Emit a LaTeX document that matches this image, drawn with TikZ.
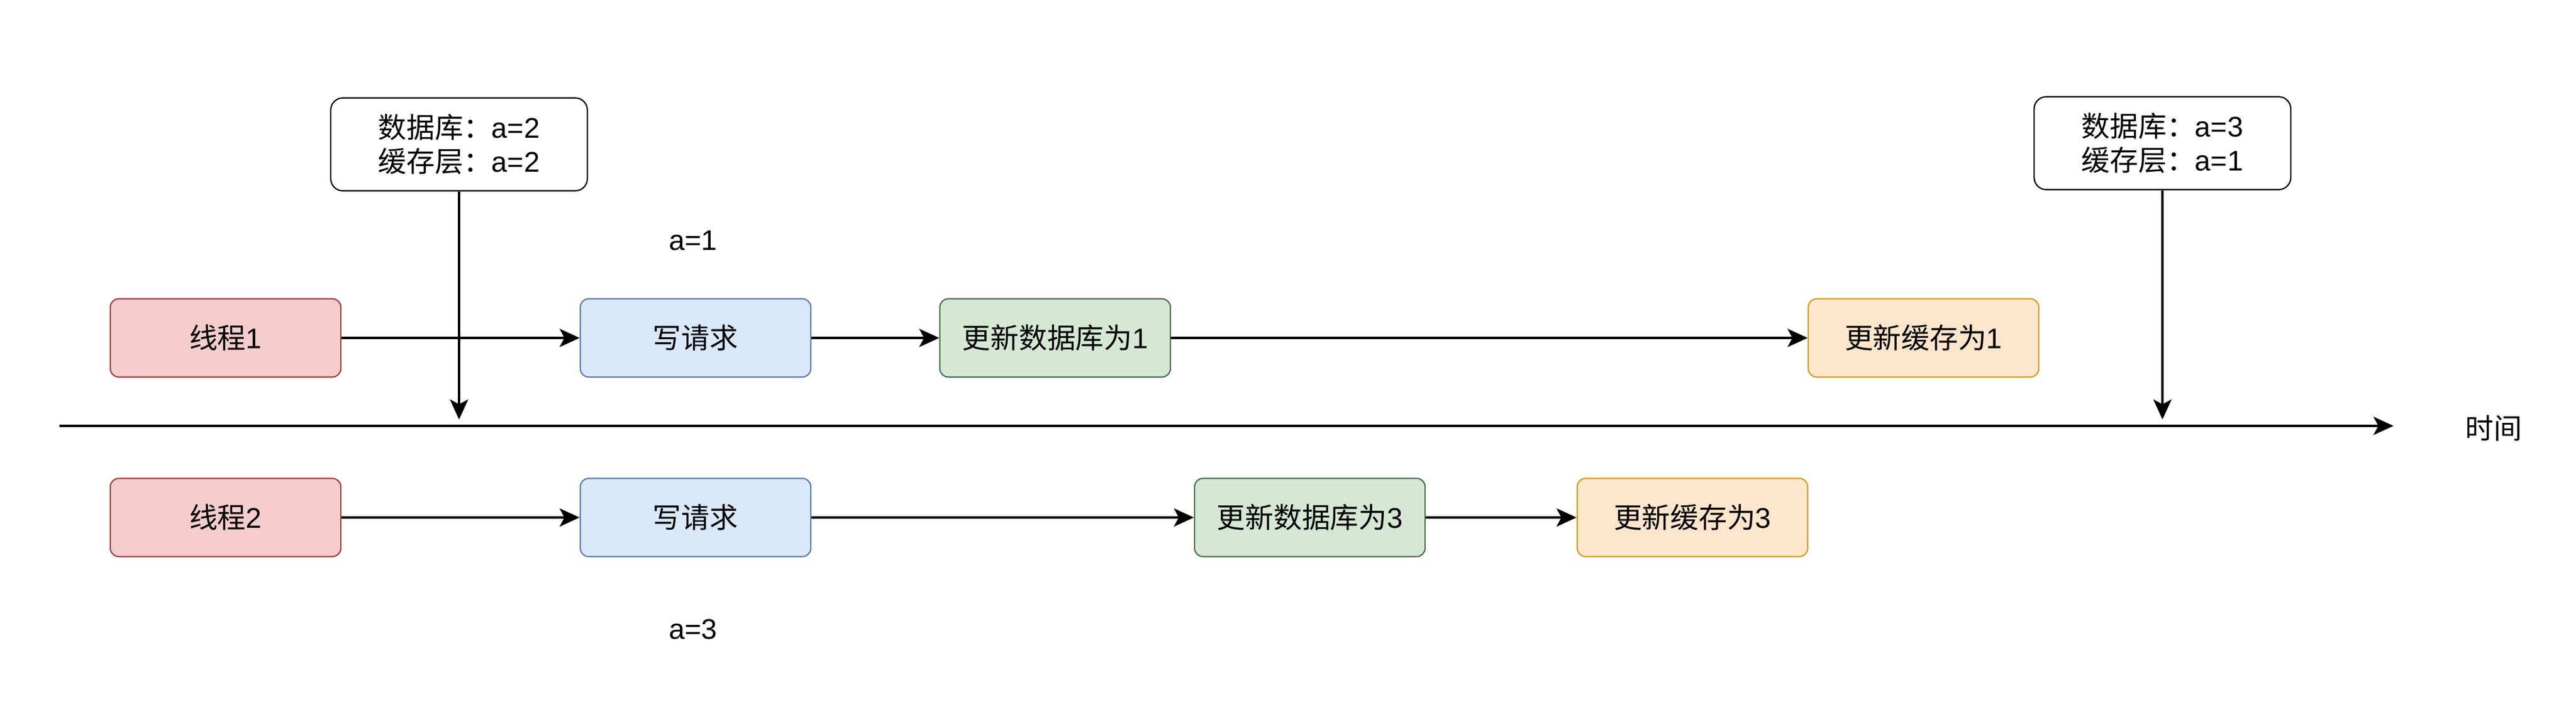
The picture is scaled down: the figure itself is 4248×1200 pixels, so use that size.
\documentclass[tikz,border=0pt]{standalone}
\usepackage{fontspec}
\setmainfont{Liberation Sans}
\newfontfamily\cjk{Noto Sans CJK SC}
\usetikzlibrary{arrows.meta}

\definecolor{redfill}{HTML}{F4CDCC}
\definecolor{reddraw}{HTML}{A63C40}
\definecolor{bluefill}{HTML}{DAE8FC}
\definecolor{bluedraw}{HTML}{5B7BA8}
\definecolor{greenfill}{HTML}{D5E8D4}
\definecolor{greendraw}{HTML}{4F6B4E}
\definecolor{orangefill}{HTML}{FDE6CC}
\definecolor{orangedraw}{HTML}{D69B1A}

\tikzset{
  stepbox/.style={draw, line width=0.6pt, rounded corners=0.14cm,
    minimum width=3.8cm, minimum height=1.29cm, inner sep=0pt},
  notebox/.style={draw, line width=0.6pt, rounded corners=0.2cm, fill=white,
    minimum width=4.23cm, minimum height=1.53cm, align=left},
  flow/.style={line width=1pt, -{Stealth[length=0.33cm, width=0.3cm, inset=0.08cm]}}
}

\begin{document}
\begin{tikzpicture}[x=0.01cm, y=-0.01cm, font=\fontsize{13.3}{15.9}\selectfont]
      \useasboundingbox (0,0) rectangle (4248,1200);
      \coordinate (tstart) at (98,702);
      \coordinate (tend) at (3947,702);
      \draw[flow] (tstart) -- (tend);
      \node (time) at (4112,706) {\cjk 时间};

      \node[stepbox, fill=redfill, draw=reddraw] (thrA) at (372,557) {{\cjk 线程}1};
      \node[stepbox, fill=bluefill, draw=bluedraw] (reqA) at (1147,557) {\cjk 写请求};
      \node[stepbox, fill=greenfill, draw=greendraw] (dbA) at (1740,557) {{\cjk 更新数据库为}1};
      \node[stepbox, fill=orangefill, draw=orangedraw] (cacheA) at (3172,557) {{\cjk 更新缓存为}1};

      \node[stepbox, fill=redfill, draw=reddraw] (thrB) at (372,853) {{\cjk 线程}2};
      \node[stepbox, fill=bluefill, draw=bluedraw] (reqB) at (1147,853) {\cjk 写请求};
      \node[stepbox, fill=greenfill, draw=greendraw] (dbB) at (2160,853) {{\cjk 更新数据库为}3};
      \node[stepbox, fill=orangefill, draw=orangedraw] (cacheB) at (2791,853) {{\cjk 更新缓存为}3};

      \draw[flow] (thrA) -- (reqA);
      \draw[flow] (reqA) -- (dbA);
      \draw[flow] (dbA) -- (cacheA);
      \draw[flow] (thrB) -- (reqB);
      \draw[flow] (reqB) -- (dbB);
      \draw[flow] (dbB) -- (cacheB);

      \node (valA) at (1143,397) {a=1};
      \node (valB) at (1143,1037) {a=3};

      \node[notebox] (noteA) at (757,238) {{\cjk 数据库：}a=2\\{\cjk 缓存层：}a=2};
      \node[notebox] (noteB) at (3566,236) {{\cjk 数据库：}a=3\\{\cjk 缓存层：}a=1};
      \coordinate (markA) at (757,702);
      \coordinate (markB) at (3566,702);
      \draw[flow, shorten >=3pt] (noteA) -- (markA);
      \draw[flow, shorten >=3pt] (noteB) -- (markB);
    \end{tikzpicture}
\end{document}
